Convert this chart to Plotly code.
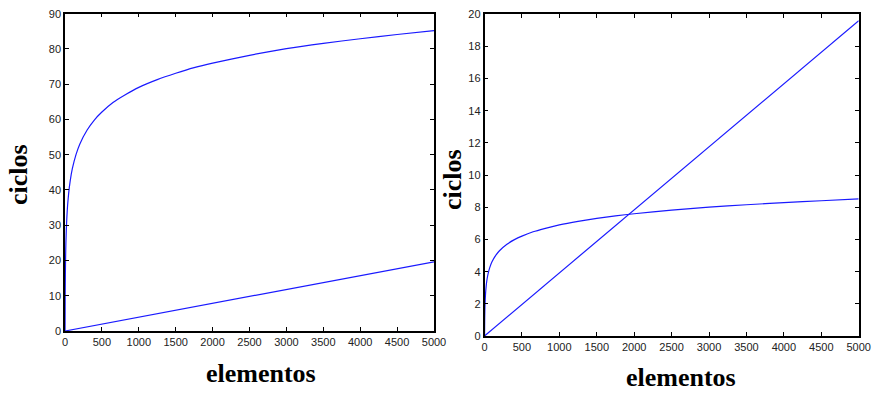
import plotly.graph_objects as go

# --- data ---
n_curve = [1, 2, 3, 5, 8, 12, 18, 25, 35, 50, 70, 100, 150, 200, 300, 400, 500, 650, 800, 1000,
           1250, 1500, 1750, 2000, 2500, 3000, 3500, 4000, 4500, 5000]
left_log = [0, 6.9, 11.0, 16.1, 20.8, 24.8, 28.9, 32.2, 35.6, 39.1, 42.5, 46.1, 50.1, 53.0, 57.0,
            59.9, 62.1, 64.8, 66.8, 69.1, 71.3, 73.1, 74.7, 76.0, 78.2, 80.1, 81.6, 82.9, 84.1, 85.2]
right_log = [0, 0.69, 1.10, 1.61, 2.08, 2.48, 2.89, 3.22, 3.56, 3.91, 4.25, 4.61, 5.01, 5.30, 5.70,
             5.99, 6.21, 6.48, 6.68, 6.91, 7.13, 7.31, 7.47, 7.60, 7.82, 8.01, 8.16, 8.29, 8.41, 8.52]
n_line = [0, 5000]
left_line = [0, 19.6]
right_line = [0, 19.6]

x_ticks = list(range(0, 5001, 500))
left_yticks = list(range(0, 91, 10))
right_yticks = list(range(0, 21, 2))

W, H = 874, 394
blue = "#1a1aff"
curve_line = dict(color=blue, width=1.2, shape="spline", smoothing=0.5)
straight_line = dict(color=blue, width=1.2)

fig = go.Figure()
fig.add_trace(go.Scatter(x=n_curve, y=left_log, mode="lines", line=curve_line,
                         xaxis="x", yaxis="y", showlegend=False))
fig.add_trace(go.Scatter(x=n_line, y=left_line, mode="lines", line=straight_line,
                         xaxis="x", yaxis="y", showlegend=False))
fig.add_trace(go.Scatter(x=n_curve, y=right_log, mode="lines", line=curve_line,
                         xaxis="x2", yaxis="y2", showlegend=False))
fig.add_trace(go.Scatter(x=n_line, y=right_line, mode="lines", line=straight_line,
                         xaxis="x2", yaxis="y2", showlegend=False))

tickfont = dict(family="Liberation Sans, Arial", size=11, color="#222")
common = dict(showgrid=False, zeroline=False, showline=True, linecolor="black", linewidth=1.5,
              mirror="ticks", ticks="inside", ticklen=4, tickcolor="black", tickfont=tickfont,
              automargin=False)

fig.update_layout(
    width=W, height=H,
    margin=dict(l=0, r=0, t=0, b=0, autoexpand=False),
    paper_bgcolor="white", plot_bgcolor="white",
    xaxis=dict(domain=[65 / W, 434 / W], range=[0, 5000], tickvals=x_ticks, anchor="y", **common),
    yaxis=dict(domain=[1 - 331 / H, 1 - 13.7 / H], range=[0, 90], tickvals=left_yticks, anchor="x", **common),
    xaxis2=dict(domain=[484.5 / W, 858.7 / W], range=[0, 5000], tickvals=x_ticks, anchor="y2", **common),
    yaxis2=dict(domain=[1 - 336 / H, 1 - 14.3 / H], range=[0, 20], tickvals=right_yticks, anchor="x2", **common),
)

labfont = dict(family="Liberation Serif, Times New Roman", size=26, color="black")
annots = [
    dict(text="<b>elementos</b>", x=261 / W, y=1 - 373 / H),
    dict(text="<b>elementos</b>", x=681 / W, y=1 - 377 / H),
    dict(text="<b>ciclos</b>", x=19 / W, y=1 - 175 / H, textangle=-90),
    dict(text="<b>ciclos</b>", x=452 / W, y=1 - 180 / H, textangle=-90),
]
for a in annots:
    fig.add_annotation(xref="paper", yref="paper", showarrow=False, xanchor="center", yanchor="middle",
                       font=labfont, **a)

fig.write_html("out.html", config={"displayModeBar": False},
               post_script="document.body.style.margin='0';document.body.style.overflow='hidden';")
